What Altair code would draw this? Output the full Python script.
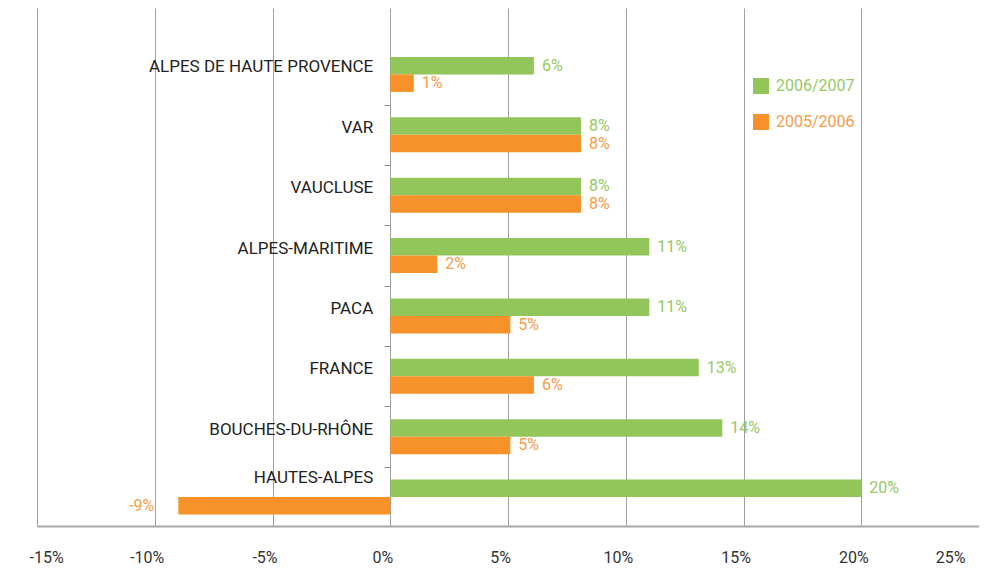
import altair as alt
import pandas as pd

cats = ["ALPES DE HAUTE PROVENCE", "VAR", "VAUCLUSE", "ALPES-MARITIME",
        "PACA", "FRANCE", "BOUCHES-DU-RHÔNE", "HAUTES-ALPES"]
series = ["2006/2007", "2005/2006"]
v0607 = [6.1, 8.1, 8.1, 11.0, 11.0, 13.1, 14.1, 20.0]
v0506 = [1.0, 8.1, 8.1, 2.0, 5.1, 6.1, 5.1, -9.0]
x_ticks = [-15, -10, -5, 0, 5, 10, 15, 20, 25]

rows = []
for c, a, b in zip(cats, v0607, v0506):
    rows.append({"cat": c, "series": series[0], "value": a})
    rows.append({"cat": c, "series": series[1], "value": b})
df = pd.DataFrame(rows)
df["label"] = df["value"].round().astype(int).astype(str) + "%"
cat_df = pd.DataFrame({"cat": cats})

GREEN, ORANGE = "#92c65b", "#f7922a"
GREEN_T, ORANGE_T = "#96c963", "#f89b48"
FONT = "Roboto"

yscale = alt.Scale(paddingInner=0.42, paddingOuter=0.5, align=0.81)
yaxis = alt.Axis(labels=False, domain=False, grid=False, ticks=True, tickSize=6,
                 tickColor="#888888", tickWidth=1, bandPosition=1, tickOffset=12.7,
                 offset=-353, values=cats[:-1], title=None)
y_enc = alt.Y("cat:N", sort=cats, scale=yscale, axis=yaxis)

xscale = alt.Scale(domain=[-15, 25], nice=False, zero=False)
xaxis = alt.Axis(values=x_ticks, grid=True, gridColor="#a0a0a0", gridWidth=1,
                 domain=True, domainColor="#a8a8a8", domainWidth=2, ticks=False,
                 labelPadding=23, labelFontSize=16, labelFont=FONT, labelColor="#333333",
                 labelOffset={"condition": {"test": "datum.value === 25", "value": -14}, "value": -8},
                 labelExpr="datum.value + '%'", title=None)
x_enc = alt.X("value:Q", scale=xscale, axis=xaxis)

yoff = alt.YOffset("series:N", sort=series, scale=alt.Scale(paddingInner=0, paddingOuter=0))

bars = alt.Chart(df).mark_bar().encode(
    x=x_enc,
    y=y_enc,
    yOffset=yoff,
    color=alt.Color(
        "series:N",
        scale=alt.Scale(domain=series, range=[GREEN, ORANGE]),
        legend=alt.Legend(
            orient="none", legendX=716, legendY=70, title=None,
            symbolType="square", symbolSize=256, symbolStrokeWidth=0,
            labelFontSize=16, labelFont=FONT,
            labelColor={"expr": "datum.label === '2006/2007' ? '%s' : '%s'" % (GREEN_T, ORANGE_T)},
            rowPadding=20, labelOffset=7, padding=0,
        ),
    ),
)

bar_text = alt.Chart(df).mark_text(
    fontSize=16, font=FONT, baseline="middle",
    align=alt.expr("datum.value < 0 ? 'right' : 'left'"),
    dx=alt.expr("datum.value < 0 ? -24 : 8"),
).encode(
    x=alt.X("value:Q", scale=xscale, axis=xaxis),
    y=y_enc,
    yOffset=yoff,
    text="label:N",
    color=alt.condition(alt.datum.series == series[0], alt.value(GREEN_T), alt.value(ORANGE_T)),
)

cat_text = alt.Chart(cat_df).mark_text(
    fontSize=17, font=FONT, align="right", baseline="middle", color="#222222",
    dx=-17, dy=alt.expr("datum.cat === 'HAUTES-ALPES' ? -19.5 : -7"),
).encode(
    x=alt.datum(0, scale=xscale, axis=xaxis),
    y=y_enc,
    text="cat:N",
)

chart = alt.layer(bars, bar_text, cat_text).properties(
    width=942, height=518,
    autosize=alt.AutoSizeParams(type="none"),
    padding={"left": 29, "top": 0, "right": 0, "bottom": 46},
).configure_view(stroke=None)

chart.save("out.html", embed_options={"renderer": "svg", "actions": False})
